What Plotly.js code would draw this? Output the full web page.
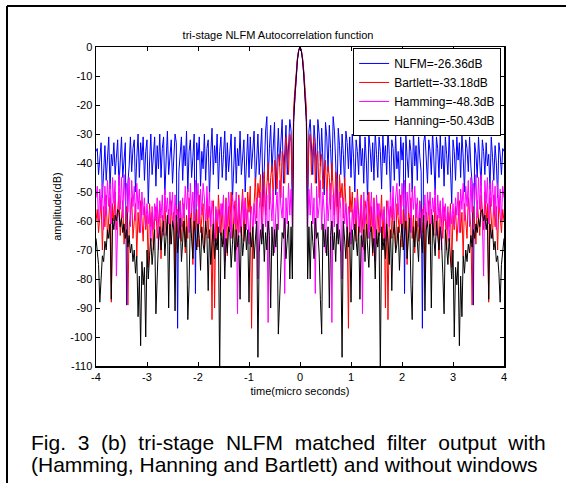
<!DOCTYPE html>
<html><head><meta charset="utf-8">
<script src="https://cdn.plot.ly/plotly-3.0.1.min.js"></script>
<style>html,body{margin:0;padding:0;background:#fff}#chart{width:566px;height:483px}</style>
</head><body><div id="chart"></div>
<script>
// Autocorrelation magnitude (dB) at positive lags 0..4 µs, step 0.025 µs.
// The autocorrelation magnitude is symmetric, so negative lags are the same values mirrored.
const lagStep = 0.025;
const seriesNames = ["NLFM=-26.36dB", "Bartlett=-33.18dB", "Hamming=-48.3dB", "Hanning=-50.43dB"];
const seriesColors = ["#0000ff", "#ff0000", "#ff00ff", "#000000"];

const nlfmHalf = [0, -1, -4, -9, -16, -24, -58,
 -29, -25, -36, -44, -27, -33, -47, -25, -30, -41, -28, -38, -51, -26,
 -31, -43, -27, -35, -46, -24, -29, -40, -55, -28, -34, -44, -30, -37, -48, -29, -33, -42, -31, -45,
 -30, -38, -50, -32, -36, -44, -29, -41, -35, -47, -31, -39, -53, -30, -35, -43, -33, -46, -29, -37,
 -45, -31, -36, -49, -30, -40, -34, -44, -28, -37, -52, -32, -35, -46, -30, -42, -36, -48, -31, -39,
 -33, -85, -30, -38, -45, -32, -36, -50, -29, -41, -34, -46, -31, -38, -43, -97, -33, -30, -40, -47,
 -32, -36, -44, -29, -39, -51, -31, -35, -45, -30, -42, -34, -48, -31, -37, -44, -30, -40, -54, -32,
 -36, -46, -31, -39, -33, -45, -30, -38, -50, -32, -35, -43, -31, -41, -47, -89, -33, -37, -45, -31,
 -39, -48, -32, -36, -44, -33, -41, -37, -49, -31, -38, -46, -34, -40, -52, -33, -37, -44, -35, -36];

const bartlettHalf = [0, -1, -3.8, -8.5, -14.5, -21, -48,
 -33, -30, -44, -35, -31, -47, -38, -36, -52, -40, -37, -49, -42, -39,
 -53, -41, -45, -56, -40, -48, -58, -43, -46, -61, -44, -52, -47, -59, -45, -54, -63, -97, -48, -57,
 -50, -62, -52, -67, -49, -58, -64, -51, -60, -70, -53, -57, -66, -50, -63, -55, -72, -52, -61, -68,
 -54, -65, -59, -51, -67, -56, -90, -53, -94, -60, -55, -66, -52, -62, -70, -54, -58, -64, -51, -69,
 -56, -63, -53, -75, -57, -60, -52, -66, -58, -71, -54, -61, -67, -53, -59, -64, -55, -78, -57, -62,
 -53, -68, -56, -60, -65, -52, -63, -58, -73, -54, -61, -66, -55, -59, -70, -57, -62, -54, -76, -58,
 -63, -55, -67, -59, -53, -64, -57, -72, -54, -60, -66, -52, -58, -62, -89, -55, -61, -68, -53, -59,
 -65, -51, -57, -63, -50, -60, -54, -88, -52, -58, -66, -51, -62, -55, -70, -53, -59, -64, -56, -60];

const hammingHalf = [0, -1.2, -4.5, -10, -17, -25, -62,
 -49, -58, -47, -61, -52, -85, -48, -59, -55, -46, -63, -50, -57, -71,
 -49, -60, -53, -47, -95, -51, -62, -48, -58, -66, -50, -56, -80, -52, -61, -54, -64, -55, -59, -68,
 -56, -63, -53, -60, -51, -65, -58, -52, -92, -50, -61, -55, -51, -66, -57, -50, -62, -53, -74, -51,
 -58, -54, -64, -56, -60, -55, -67, -57, -53, -62, -50, -59, -48, -63, -52, -47, -58, -49, -61, -47,
 -55, -46, -60, -50, -57, -47, -64, -49, -56, -48, -59, -52, -62, -54, -66, -56, -60, -51, -63, -50,
 -58, -50, -61, -52, -57, -49, -65, -51, -59, -53, -70, -52, -60, -54, -63, -55, -67, -56, -61, -54,
 -62, -52, -58, -50, -64, -49, -56, -47, -60, -48, -55, -46, -62, -45, -57, -47, -53, -44, -59, -45,
 -56, -44, -60, -79, -46, -54, -45, -61, -47, -55, -46, -58, -48, -63, -47, -56, -49, -60, -48, -52];

const hanningHalf = [0, -1.2, -4.5, -10, -17, -26, -80,
 -62, -80, -60, -67, -73, -59, -66, -64, -71, -87, -99, -61, -69, -63,
 -72, -62, -90, -65, -60, -70, -64, -74, -61, -68, -63, -71, -107, -60, -66, -73, -62, -69, -64, -88,
 -63, -70, -61, -67, -72, -62, -87, -65, -69, -63, -74, -61, -68, -76, -64, -62, -71, -66, -80, -63,
 -69, -64, -112, -62, -70, -66, -73, -61, -67, -75, -63, -84, -65, -60, -71, -68, -62, -77, -66, -61,
 -70, -64, -60, -73, -67, -59, -82, -94, -62, -69, -60, -66, -74, -59, -65, -71, -58, -91, -63, -60,
 -68, -61, -90, -58, -66, -72, -60, -64, -70, -62, -67, -78, -92, -63, -69, -75, -66, -72, -80, -70,
 -100, -76, -82, -74, -103, -79, -93, -72, -78, -70, -74, -68, -71, -65, -69, -63, -66, -61, -64, -59,
 -62, -57, -56, -60, -58, -63, -59, -87, -61, -66, -63, -70, -67, -74, -72, -78, -88, -75, -70, -66];

const xTickVals = [-4, -3, -2, -1, 0, 1, 2, 3, 4];
const xTickText = ["-4", "-3", "-2", "-1", "0", "1", "2", "3", "4"];
const yTickVals = [0, -10, -20, -30, -40, -50, -60, -70, -80, -90, -100, -110];
const yTickText = ["0", "-10", "-20", "-30", "-40", "-50", "-60", "-70", "-80", "-90", "-100", "-110"];

const chartTitle = "tri-stage NLFM Autocorrelation function";
const xTitle = "time(micro seconds)";
const yTitle = "amplitude(dB)";
const captionLine1 = "Fig. 3 (b) tri-stage NLFM matched filter output with";
const captionLine2 = "(Hamming, Hanning and Bartlett) and without windows";

function fullSeries(half) { return half.slice(1).reverse().concat(half); }
const halfLags = nlfmHalf.map((_, k) => k * lagStep);
const lags = halfLags.slice(1).reverse().map(v => -v).concat(halfLags);

const halves = [nlfmHalf, bartlettHalf, hammingHalf, hanningHalf];
const traces = halves.map((h, i) => ({
  type: "scatter", mode: "lines", x: lags, y: fullSeries(h),
  name: seriesNames[i], line: {color: seriesColors[i], width: 1}
}));

const FONT = "Liberation Sans, Arial, Helvetica, sans-serif";
// justify first caption line by widening its spaces
const justified1 = captionLine1.split(" ").join(" \u00a0");

const layout = {
  width: 566, height: 483,
  margin: {l: 96, r: 62, t: 47, b: 117},
  paper_bgcolor: "#fff", plot_bgcolor: "#fff",
  font: {family: FONT, size: 11, color: "#000"},
  showlegend: true,
  title: {text: chartTitle, font: {family: FONT, size: 11, color: "#000"},
          xref: "container", x: 278 / 566, xanchor: "center",
          yref: "container", y: 1 - 35 / 483, yanchor: "middle"},
  xaxis: {range: [-4, 4], tickvals: xTickVals, ticktext: xTickText,
          ticks: "inside", ticklen: 4, tickcolor: "#000", showline: true, linecolor: "#000", linewidth: 1.5,
          mirror: "ticks", showgrid: false, zeroline: false,
          tickfont: {family: FONT, size: 11, color: "#000"},
          title: {text: xTitle, font: {family: FONT, size: 11, color: "#000"}, standoff: 5}},
  yaxis: {range: [-110, 0], tickvals: yTickVals, ticktext: yTickText,
          ticks: "inside", ticklen: 4, tickcolor: "#000", showline: true, linecolor: "#000", linewidth: 1.5,
          mirror: "ticks", showgrid: false, zeroline: false,
          tickfont: {family: FONT, size: 11, color: "#000"},
          title: {text: yTitle, font: {family: FONT, size: 11, color: "#000"}, standoff: 6}},
  legend: {x: 0.993, xanchor: "right", y: 0.997, yanchor: "top",
           bgcolor: "#fff", bordercolor: "#000", borderwidth: 1,
           font: {family: FONT, size: 12, color: "#000"}, tracegroupgap: 0},
  shapes: [
    {type: "line", xref: "paper", yref: "paper", x0: (7 - 96) / 408, x1: (566 - 96) / 408,
     y0: (366 - 6) / 319, y1: (366 - 6) / 319, line: {color: "#000", width: 2}},
    {type: "line", xref: "paper", yref: "paper", x0: (7 - 96) / 408, x1: (7 - 96) / 408,
     y0: (366 - 6) / 319, y1: (366 - 483) / 319, line: {color: "#000", width: 2}}
  ],
  annotations: [
    {text: justified1, xref: "paper", yref: "paper", x: (29 - 96) / 408, xanchor: "left",
     y: (366 - 442) / 319, yanchor: "middle", showarrow: false,
     font: {family: FONT, size: 21, color: "#000"}},
    {text: captionLine2, xref: "paper", yref: "paper", x: (29 - 96) / 408, xanchor: "left",
     y: (366 - 464) / 319, yanchor: "middle", showarrow: false,
     font: {family: FONT, size: 21, color: "#000"}}
  ]
};

Plotly.newPlot("chart", traces, layout, {displayModeBar: false, staticPlot: true});
</script>
</body></html>
